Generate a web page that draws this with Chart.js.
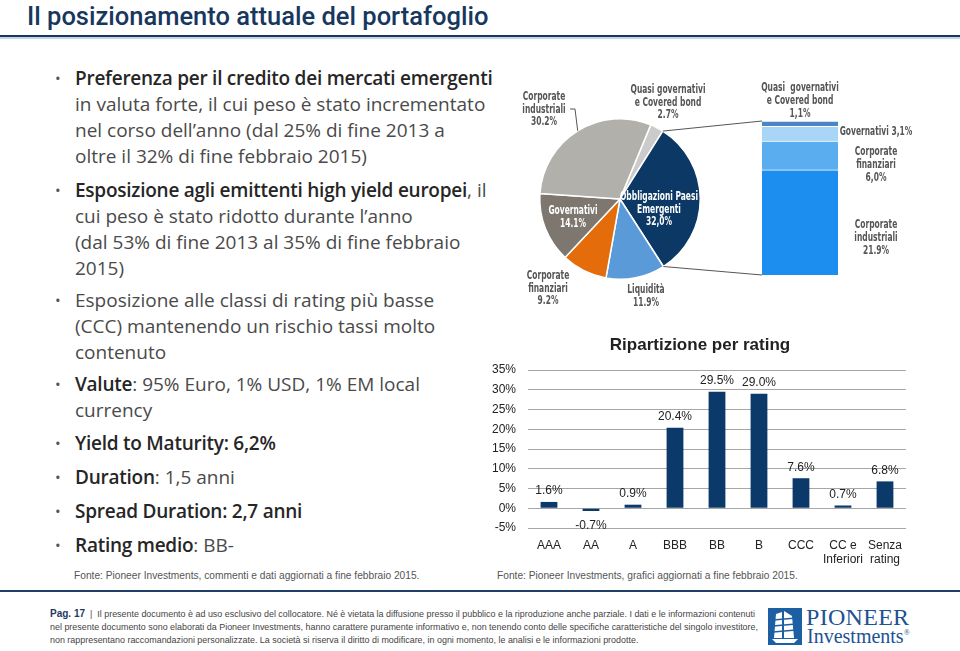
<!DOCTYPE html>
<html><head><meta charset="utf-8">
<script src="https://cdn.jsdelivr.net/npm/chart.js@4.4.1/dist/chart.umd.min.js"></script>
<style>
html,body{margin:0;padding:0;background:#fff;}
body{width:960px;height:651px;position:relative;overflow:hidden;font-family:"Liberation Sans",Arial,sans-serif;}
.abs{position:absolute;}
#title{left:27px;top:1px;font-family:Roboto,sans-serif;font-weight:500;font-size:25.5px;color:#17375e;white-space:nowrap;}
#hl1{left:0;top:35px;width:960px;height:2px;background:#17375e;}
#hl2{left:0;top:37px;width:960px;height:2px;background:#c3d5e6;}
.b{position:absolute;left:75px;line-height:26px;white-space:nowrap;font-family:"Open Sans",sans-serif;font-size:19px;color:#4a4a4a;}
.b::before{content:"•";position:absolute;left:-20px;font-size:15px;color:#555;}
.b strong{color:#262626;font-weight:600;letter-spacing:-0.25px;}
.src{font-family:"Liberation Sans",Arial,sans-serif;font-size:10.2px;color:#555;white-space:nowrap;}
#fl{left:0;top:590px;width:960px;height:2px;background:#1f3f66;}
#foot{left:50px;top:607px;font-family:"Liberation Sans",Arial,sans-serif;font-size:9.4px;line-height:13px;color:#444;white-space:nowrap;transform-origin:0 0;}
#foot b{color:#1f3864;font-size:10.5px;}
#logo{left:768px;top:608px;width:34px;height:37px;background:#1d5fa3;}
#pio{left:806px;top:604px;font-family:"Liberation Serif","DejaVu Serif",serif;font-size:24px;color:#1d5293;letter-spacing:0.3px;white-space:nowrap;}
#inv{left:807px;top:625px;font-family:"Liberation Serif","DejaVu Serif",serif;font-size:20px;color:#1d5293;white-space:nowrap;}
#inv sup{font-size:8px;}
canvas{position:absolute;}
#conn{position:absolute;left:0;top:0;width:960px;height:651px;pointer-events:none;}
</style>
</head>
<body>
<div id="title" class="abs">Il posizionamento attuale del portafoglio</div>
<div id="hl1" class="abs"></div><div id="hl2" class="abs"></div>

<div class="b" style="top:65px"><strong>Preferenza per il credito dei mercati emergenti</strong><br>in valuta forte, il cui peso è stato incrementato<br>nel corso dell’anno (dal 25% di fine 2013 a<br>oltre il 32% di fine febbraio 2015)</div>
<div class="b" style="top:177px"><strong>Esposizione agli emittenti high yield europei</strong>, il<br>cui peso è stato ridotto durante l’anno<br>(dal 53% di fine 2013 al 35% di fine febbraio<br>2015)</div>
<div class="b" style="top:287px">Esposizione alle classi di rating più basse<br>(CCC) mantenendo un rischio tassi molto<br>contenuto</div>
<div class="b" style="top:371px"><strong>Valute</strong>: 95% Euro, 1% USD, 1% EM local<br>currency</div>
<div class="b" style="top:430px"><strong>Yield to Maturity: 6,2%</strong></div>
<div class="b" style="top:464px"><strong>Duration</strong>: 1,5 anni</div>
<div class="b" style="top:498px"><strong>Spread Duration: 2,7 anni</strong></div>
<div class="b" style="top:532px"><strong>Rating medio</strong>: BB-</div>

<div class="abs src" style="left:74px;top:570px">Fonte: Pioneer Investments, commenti e dati aggiornati a fine febbraio 2015.</div>
<div class="abs src" style="left:497px;top:570px">Fonte: Pioneer Investments, grafici aggiornati a fine febbraio 2015.</div>

<div id="fl" class="abs"></div>
<div id="foot" class="abs"><b>Pag. 17</b> &nbsp;|&nbsp; Il presente documento è ad uso esclusivo del collocatore. Né è vietata la diffusione presso il pubblico e la riproduzione anche parziale. I dati e le informazioni contenuti<br>nel presente documento sono elaborati da Pioneer Investments, hanno carattere puramente informativo e, non tenendo conto delle specifiche caratteristiche del singolo investitore,<br>non rappresentano raccomandazioni personalizzate. La società si riserva il diritto di modificare, in ogni momento, le analisi e le informazioni prodotte.</div>
<div id="logo" class="abs"><svg width="34" height="37" viewBox="0 0 34 37"><g fill="#fff"><path d="M8 6 L14 4 L14 30 L6 30 Z"/><path d="M16 3 L24 8 L26 30 L16 30 Z"/><path d="M4 31 L30 31 L26 35 L8 35 Z"/></g><g stroke="#1d5fa3" stroke-width="1.3"><line x1="5" y1="12" x2="28" y2="10"/><line x1="5" y1="18" x2="28" y2="16"/><line x1="5" y1="24" x2="28" y2="22"/></g></svg></div>
<div id="pio" class="abs">PIONEER</div>
<div id="inv" class="abs">Investments<sup>®</sup></div>

<canvas id="pie" width="260" height="248" style="left:490px;top:75px;width:260px;height:248px"></canvas>
<canvas id="stack" width="230" height="245" style="left:730px;top:75px;width:230px;height:245px"></canvas>
<canvas id="rating" width="424" height="250" style="left:488px;top:330px;width:424px;height:250px"></canvas>
<svg id="conn"></svg>

<script>
// ---- Data ----
const pieNames = [['Quasi governativi','e Covered bond'],['Obbligazioni Paesi','Emergenti'],['Liquidità'],['Corporate','finanziari'],['Governativi'],['Corporate','industriali']];
const pieValues = [2.7, 32.0, 11.9, 9.2, 14.1, 30.2];
const pieValueText = ['2.7%','32,0%','11.9%','9.2%','14.1%','30.2%'];

const emNames = [['Corporate','industriali'],['Corporate','finanziari'],['Governativi'],['Quasi  governativi','e Covered bond']];
const emValues = [21.9, 6.0, 3.1, 1.1];
const emValueText = ['21.9%','6,0%','3,1%','1,1%'];

const ratingCategories = ['AAA','AA','A','BBB','BB','B','CCC',['CC e','Inferiori'],['Senza','rating']];
const ratingValues = [1.6, -0.7, 0.9, 20.4, 29.5, 29.0, 7.6, 0.7, 6.8];
const ratingTitle = 'Ripartizione per rating';

// ---- Styles ----
const pieColors = ['#cbcbcb','#0b3864','#5b9ad8','#e46c0a','#7d776f','#b2b0ab'];
const pieLabelStyle = [
  {dx:48, dy:-109, c:'#555'},
  {dx:39, dy:-2, c:'#ffffff'},
  {dx:26, dy:91, c:'#555'},
  {dx:-72, dy:77, c:'#555'},
  {dx:-47, dy:12, c:'#ffffff'},
  {dx:-76, dy:-102, c:'#555', leader:true}
];
const emColors = ['#1c8ef0','#5aaef0','#a9d6f7','#4a86c0'];
const emLabelStyle = [
  {pos:'right', dy:2.5},
  {pos:'right', dy:-3.5},
  {pos:'right', dy:-2},
  {pos:'above', dy:-33}
];
const labelFont = 'bold 12.5px "DejaVu Sans Condensed","DejaVu Sans",sans-serif';
const labelSqueeze = 0.67;
function condText(ctx, t, x, y){
  ctx.save(); ctx.translate(x, y); ctx.scale(labelSqueeze, 1); ctx.fillText(t, 0, 0); ctx.restore();
}

Chart.defaults.animation = false;
Chart.defaults.font.family = '"Liberation Sans", Arial, sans-serif';

// ---- Pie ----
const pieLabelPlugin = {
  id:'pieLabels',
  afterDatasetsDraw(chart){
    const ctx = chart.ctx, arcs = chart.getDatasetMeta(0).data;
    ctx.save();
    ctx.font = labelFont; ctx.textAlign = 'center'; ctx.textBaseline = 'middle';
    arcs.forEach((a,i)=>{
      const s = pieLabelStyle[i];
      const lines = [...pieNames[i], pieValueText[i]];
      ctx.fillStyle = s.c;
      lines.forEach((t,k)=>condText(ctx, t, a.x+s.dx, a.y+s.dy+k*12.5));
      if (s.leader){
        const mid = (a.startAngle+a.endAngle)/2;
        ctx.strokeStyle = '#555'; ctx.lineWidth = 1;
        ctx.beginPath();
        ctx.moveTo(a.x+s.dx+26, a.y+s.dy+12);
        ctx.lineTo(a.x+s.dx+31, a.y+s.dy+12);
        ctx.lineTo(a.x+(a.outerRadius)*Math.cos(mid), a.y+(a.outerRadius)*Math.sin(mid));
        ctx.stroke();
      }
    });
    ctx.restore();
  }
};
const pieChart = new Chart(document.getElementById('pie'), {
  type:'pie',
  data:{labels:pieNames.map(n=>n.join(' ')), datasets:[{data:pieValues, backgroundColor:pieColors, borderColor:'#ffffff', borderWidth:1.5}]},
  options:{responsive:false, rotation:22.5, layout:{padding:43},
    plugins:{legend:{display:false}, tooltip:{enabled:false}}},
  plugins:[pieLabelPlugin]
});

// ---- Stacked EM bar ----
const emLabelPlugin = {
  id:'emLabels',
  afterDatasetsDraw(chart){
    const ctx = chart.ctx;
    ctx.save();
    ctx.font = labelFont; ctx.textAlign = 'center'; ctx.textBaseline = 'middle'; ctx.fillStyle = '#555';
    chart.data.datasets.forEach((ds,i)=>{
      const b = chart.getDatasetMeta(i).data[0];
      const s = emLabelStyle[i];
      const lines = emNames[i].length===1 ? [emNames[i][0]+' '+emValueText[i]] : [...emNames[i], emValueText[i]];
      let x, y0;
      if (s.pos==='above'){ x = b.x; y0 = b.y + s.dy; }
      else { x = b.x + b.width/2 + 38; const c = (b.y+b.base)/2; y0 = c + s.dy; }
      lines.forEach((t,k)=>condText(ctx, t, x, y0+k*12.8));
    });
    ctx.restore();
  }
};
const stackChart = new Chart(document.getElementById('stack'), {
  type:'bar',
  data:{labels:['EM'], datasets: emValues.map((v,i)=>({label:emNames[i].join(' '), data:[v], backgroundColor:emColors[i], borderColor:'#ffffff', borderWidth:{top:1,left:0,right:0,bottom:0}, borderSkipped:false, barPercentage:1, categoryPercentage:1}))},
  options:{responsive:false, layout:{padding:{left:32,right:122,top:46,bottom:45}},
    scales:{x:{display:false, stacked:true}, y:{display:false, stacked:true, min:0, max:emValues.reduce((a,b)=>a+b,0)}},
    plugins:{legend:{display:false}, tooltip:{enabled:false}}},
  plugins:[emLabelPlugin]
});

// ---- Rating bar chart ----
const barValuePlugin = {
  id:'barValues',
  afterDatasetsDraw(chart){
    const ctx = chart.ctx, meta = chart.getDatasetMeta(0);
    ctx.save();
    ctx.font = '12px "Liberation Sans", Arial, sans-serif'; ctx.fillStyle = '#222'; ctx.textAlign = 'center';
    meta.data.forEach((b,i)=>{
      const v = ratingValues[i];
      const t = v.toFixed(1)+'%';
      if (v >= 0){ ctx.textBaseline='bottom'; ctx.fillText(t, b.x, b.y-5); }
      else { ctx.textBaseline='top'; ctx.fillText(t, b.x, b.y+9); }
    });
    ctx.restore();
  }
};
const ratingChart = new Chart(document.getElementById('rating'), {
  type:'bar',
  data:{labels:ratingCategories, datasets:[{data:ratingValues, backgroundColor:'#0b3a6a', categoryPercentage:0.8, barPercentage:0.5}]},
  options:{responsive:false, layout:{padding:{top:0,right:0,left:0,bottom:0}},
    scales:{
      x:{grid:{display:false, drawTicks:false}, border:{display:false},
         ticks:{color:'#222', font:{size:12}, padding:10, maxRotation:0, autoSkip:false},
         afterFit(s){ s.height = 52; }},
      y:{min:-5, max:35, grid:{color:'#a6a6a6', drawTicks:false}, border:{display:false},
         ticks:{stepSize:5, color:'#222', font:{size:12}, padding:12, callback:v=>v+'%'},
         afterFit(s){ s.width = 40; }}
    },
    plugins:{legend:{display:false}, tooltip:{enabled:false},
      title:{display:true, text:ratingTitle, color:'#222', font:{size:17, weight:'bold'}, padding:{top:5, bottom:14.6}}}},
  plugins:[barValuePlugin]
});

// ---- Connector lines (from chart geometry) ----
(function(){
  const pc = document.getElementById('pie'), sc = document.getElementById('stack');
  const pOff = {x:pc.offsetLeft, y:pc.offsetTop}, sOff = {x:sc.offsetLeft, y:sc.offsetTop};
  const em = pieChart.getDatasetMeta(0).data[1];
  const r = em.outerRadius;
  const p1 = {x:pOff.x+em.x+r*Math.cos(em.startAngle), y:pOff.y+em.y+r*Math.sin(em.startAngle)};
  const p2 = {x:pOff.x+em.x+r*Math.cos(em.endAngle), y:pOff.y+em.y+r*Math.sin(em.endAngle)};
  const top = stackChart.getDatasetMeta(emValues.length-1).data[0];
  const bot = stackChart.getDatasetMeta(0).data[0];
  const q1 = {x:sOff.x+top.x-top.width/2, y:sOff.y+top.y};
  const q2 = {x:sOff.x+bot.x-bot.width/2, y:sOff.y+bot.base};
  const svg = document.getElementById('conn');
  [[p1,q1],[p2,q2]].forEach(([a,b])=>{
    const l = document.createElementNS('http://www.w3.org/2000/svg','line');
    l.setAttribute('x1',a.x); l.setAttribute('y1',a.y); l.setAttribute('x2',b.x); l.setAttribute('y2',b.y);
    l.setAttribute('stroke','#555'); l.setAttribute('stroke-width','1');
    svg.appendChild(l);
  });
})();

// ---- Fit footer text width ----
(function(){
  const f = document.getElementById('foot');
  const w = f.getBoundingClientRect().width;
  f.style.transform = 'scaleX(' + (708 / w) + ')';
})();
</script>
</body></html>
